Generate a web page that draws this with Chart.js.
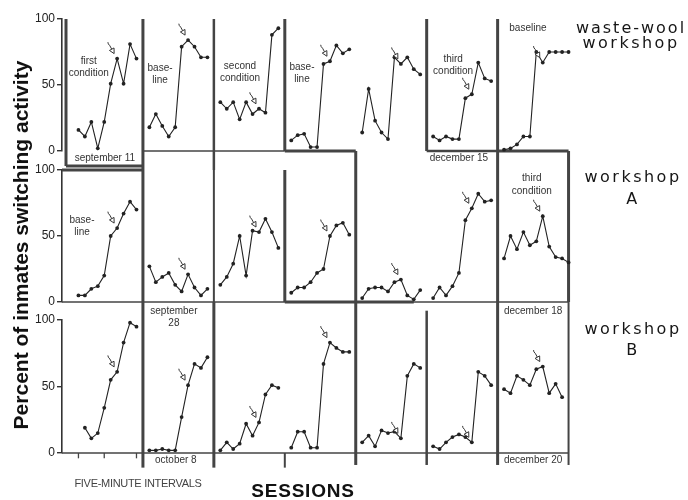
<!DOCTYPE html>
<html>
<head>
<meta charset="utf-8">
<script src="https://cdn.jsdelivr.net/npm/chart.js@4"></script>
<style>
  body { margin: 0; background: #fff; }
  #fig { position: relative; width: 688px; height: 500px; overflow: hidden; background: #fff;
         font-family: "Liberation Sans", Arial, sans-serif; color: #1a1a1a; }
  #fig canvas { position: absolute; left: 0; top: 0; }
  .row-name { position: absolute; width: 140px; text-align: center; font-family: "DejaVu Sans", sans-serif;
              font-size: 16px; letter-spacing: 2.5px; color: #161616; white-space: nowrap; }
  #ytitle { position: absolute; left: -179px; top: 233px; width: 400px; height: 24px; line-height: 24px;
            text-align: center; font-weight: bold; font-size: 21px; transform: rotate(-90deg); color: #111; }
  #sessions { position: absolute; left: 203px; top: 481px; width: 200px; line-height: 20px; text-align: center;
              font-weight: bold; font-size: 19px; letter-spacing: 0.8px; color: #111; }
  #intervals { position: absolute; left: 38px; top: 476px; width: 200px; line-height: 14px; text-align: center;
               font-size: 11px; letter-spacing: -0.3px; color: #444; }
</style>
</head>
<body>
<div id="fig">
  <canvas id="row1" width="688" height="500"></canvas>
  <canvas id="row2" width="688" height="500"></canvas>
  <canvas id="row3" width="688" height="500"></canvas>
  <div id="ytitle">Percent of inmates switching activity</div>
  <div id="intervals">FIVE-MINUTE INTERVALS</div>
  <div id="sessions">SESSIONS</div>
  <div class="row-name" style="left:561px;top:20px;line-height:15px;letter-spacing:2px">waste-wool<br><span style="letter-spacing:2.5px">workshop</span></div>
  <div class="row-name" style="left:563px;top:166px;line-height:22px">workshop<br>A</div>
  <div class="row-name" style="left:563px;top:318px;line-height:21px">workshop<br>B</div>
</div>
<script>
// Percent of inmates switching activity, one value per five-minute interval.
// Each workshop has seven sessions; null marks an interval with no reading.
const wasteWool = [
  [16, 11, 22, 2, 22, 51, 70, 51, 81, 70],
  [18, 28, 19, 11, 18, 79, 84, 79, 71, 71],
  [37, 32, 37, 24, 37, 28, 32, 29, 88, 93],
  [8, 12, 13, 3, 3, 66, 68, 80, 74, 77],
  [14, 47, 23, 14, 9, 71, 66, 71, 62, 58],
  [11, 8, 11, 9, 9, 40, 43, 67, 55, 53],
  [1, 2, 5, 11, 11, 75, 67, 75, 75, 75, 75]
];
const workshopA = [
  [5, 5, 10, 12, 20, 50, 56, 67, 76, 70],
  [27, 15, 19, 22, 13, 8, 21, 11, 5, 10],
  [13, 19, 29, 50, 20, 54, 53, 63, 53, 41],
  [7, 11, 11, 15, 22, 25, 50, 58, 60, 51],
  [3, 10, 11, 11, 8, 15, 17, 5, 2, 9],
  [3, 11, 5, 12, 22, 62, 71, 82, 76, 77],
  [33, 50, 40, 53, 43, 46, 65, 42, 34, 33, 30]
];
const workshopB = [
  [null, 19, 11, 15, 34, 55, 61, 83, 98, 95],
  [2, 2, 3, 2, 2, 27, 51, 67, 64, 72],
  [2, 8, 3, 7, 22, 13, 23, 44, 51, 49],
  [4, 16, 16, 4, 4, 67, 83, 79, 76, 76],
  [8, 13, 5, 17, 15, 16, 11, 58, 67, 64],
  [5, 3, 8, 12, 14, 12, 8, 61, 58, 51],
  [48, 45, 58, 55, 51, 63, 65, 45, 52, 42]
];
// interval (index within the session) marked by an arrow
const wasteWoolArrows = [6, 6, 6, 6, 6, 6, 6];
const workshopAArrows = [6, 6, 6, 6, 6, 6, 6];
const workshopBArrows = [6, 6, 6, 6, 6, 6, 6];
const yTicks = [0, 50, 100];

// layout: each session block is 11 interval slots wide on the x scale
const BLOCK = 11;
const INK = '#222';
const FRAME = '#444';

// frame segments: [x1, y1, x2, y2, lineWidth] in scale units of the row
const frames1 = [
  [-0.93, 100, -0.93, -11.4, 3], [-0.93, -11.4, 11, -11.4, 3],
  [11, 100, 11, -14.4, 3], [22, 100, 22, -14.4, 2.5], [33, 100, 33, 0, 3],
  [11, 0, 33, 0, 1.3], [33, 0, 44, 0, 3], [44, 0, 44, -14.4, 3],
  [55, 100, 55, 0, 3], [55, 0, 66, 0, 2.5], [66, 100, 66, -14.4, 3],
  [66, 0, 77, 0, 3], [77, 0, 77, -14.4, 3]
];
const frames2 = [
  [-1.55, 100, 11, 100, 3], [11, 100, 11, 0, 3], [22, 100, 22, 0, 2],
  [33, 100, 33, 0, 3], [44, 100, 44, 0, 3], [66, 100, 66, 0, 3], [77, 100, 77, 0, 3],
  [-1.55, 0, 77, 0, 1.3], [33, 0, 53, 0, 3]
];
const frames3 = [
  [-1.55, 0, 77, 0, 1.3], [11, 113.5, 11, -11, 3], [22, 113.5, 22, -11, 3],
  [33, 0, 33, -11, 2], [44, 113.5, 44, -9, 3], [55, 107, 55, -9, 2.5],
  [66, 113.5, 66, -9, 3], [77, 113.5, 77, -9, 2],
  [1, 0, 1, -4, 1.3], [5, 0, 5, -4, 1.3], [10, 0, 10, -4, 1.3]
];

// in-panel captions: centre of first line in scale units
const notes1 = [
  { x: 2.6, y: 68.2, lines: ['first', 'condition'] },
  { x: 13.65, y: 62.9, lines: ['base-', 'line'] },
  { x: 26.05, y: 64.4, lines: ['second', 'condition'] },
  { x: 35.66, y: 63.6, lines: ['base-', 'line'] },
  { x: 59.1, y: 69.7, lines: ['third', 'condition'] },
  { x: 70.7, y: 93.2, lines: ['baseline'] },
  { x: 5.1, y: -5.3, lines: ['september 11'] },
  { x: 60.0, y: -5.3, lines: ['december 15'] }
];
const notes2 = [
  { x: 1.55, y: 62.1, lines: ['base-', 'line'] },
  { x: 15.8, y: -6.8, lines: ['september', '28'] },
  { x: 71.3, y: 93.9, lines: ['third', 'condition'], lh: 13.5 },
  { x: 71.5, y: -6.8, lines: ['december 18'] }
];
const notes3 = [
  { x: 16.1, y: -5.3, lines: ['october 8'] },
  { x: 71.5, y: -5.3, lines: ['december 20'] }
];

function drawArrow(ctx, px, py) {
  const ux = -0.48, uy = -0.88;           // from tip back toward the tail
  const tx = px - 3, ty = py - 5;         // tip just above-left of the point
  const hx = tx + ux * 5, hy = ty + uy * 5;
  const nx = -uy, ny = ux;
  ctx.beginPath();
  ctx.moveTo(hx, hy);
  ctx.lineTo(tx + ux * 9, ty + uy * 9);
  ctx.lineTo(tx + ux * 9 - 1.5, ty + uy * 11);
  ctx.lineTo(tx + ux * 13, ty + uy * 13);
  ctx.stroke();
  ctx.beginPath();
  ctx.moveTo(tx, ty);
  ctx.lineTo(hx + nx * 2.6, hy + ny * 2.6);
  ctx.lineTo(hx - nx * 2.6, hy - ny * 2.6);
  ctx.closePath();
  ctx.fillStyle = '#fff';
  ctx.fill();
  ctx.stroke();
}

function decor(frames, notes) {
  return {
    id: 'decor',
    beforeDatasetsDraw(chart) {
      const { ctx, scales: { x, y } } = chart;
      ctx.save();
      ctx.strokeStyle = FRAME;
      ctx.lineCap = 'butt';
      frames.forEach(([x1, y1, x2, y2, w]) => {
        ctx.lineWidth = w;
        ctx.beginPath();
        ctx.moveTo(x.getPixelForValue(x1), y.getPixelForValue(y1));
        ctx.lineTo(x.getPixelForValue(x2), y.getPixelForValue(y2));
        ctx.stroke();
      });
      ctx.restore();
    },
    afterDatasetsDraw(chart) {
      const { ctx, scales: { x, y } } = chart;
      ctx.save();
      ctx.strokeStyle = '#333';
      ctx.lineWidth = 1;
      chart.data.datasets.forEach((ds, i) => {
        const el = chart.getDatasetMeta(i).data[ds.arrowAt];
        if (el && !el.skip) drawArrow(ctx, el.x, el.y);
      });
      ctx.fillStyle = '#333';
      ctx.font = '10px "Liberation Sans", Arial, sans-serif';
      ctx.textAlign = 'center';
      ctx.textBaseline = 'middle';
      notes.forEach(n => {
        const lh = n.lh || 12;
        n.lines.forEach((t, j) => {
          ctx.fillText(t, x.getPixelForValue(n.x), y.getPixelForValue(n.y) + j * lh);
        });
      });
      ctx.restore();
    }
  };
}

function makeRow(id, blocks, arrows, padTop, padBottom, frames, notes) {
  const datasets = blocks.map((vals, k) => ({
    data: vals.map((v, i) => ({ x: k * BLOCK + 1 + i, y: v })),
    arrowAt: arrows[k],
    borderColor: INK,
    borderWidth: 1.1,
    pointRadius: 1.9,
    pointBackgroundColor: INK,
    pointBorderWidth: 0,
    tension: 0,
    spanGaps: false,
    clip: false
  }));
  return new Chart(document.getElementById(id), {
    type: 'line',
    data: { datasets },
    options: {
      responsive: false,
      animation: false,
      devicePixelRatio: 1,
      events: [],
      layout: { padding: { left: 0, right: 113, top: padTop, bottom: padBottom } },
      plugins: { legend: { display: false }, tooltip: { enabled: false } },
      scales: {
        x: { type: 'linear', display: false, min: -1.55, max: 78 },
        y: {
          min: 0, max: 100,
          afterBuildTicks: s => { s.ticks = yTicks.map(v => ({ value: v })); },
          afterFit: s => { s.width = 62; },
          ticks: { color: '#222', font: { family: '"Liberation Sans", Arial, sans-serif', size: 12 }, padding: 2 },
          grid: { drawOnChartArea: false, tickLength: 5, color: '#333', lineWidth: 1.4 },
          border: { color: '#333', width: 1.6 }
        }
      }
    },
    plugins: [decor(frames, notes)]
  });
}

makeRow('row1', wasteWool, wasteWoolArrows, 19, 349, frames1, notes1);
makeRow('row2', workshopA, workshopAArrows, 170, 198, frames2, notes2);
makeRow('row3', workshopB, workshopBArrows, 320, 47, frames3, notes3);
</script>
</body>
</html>
